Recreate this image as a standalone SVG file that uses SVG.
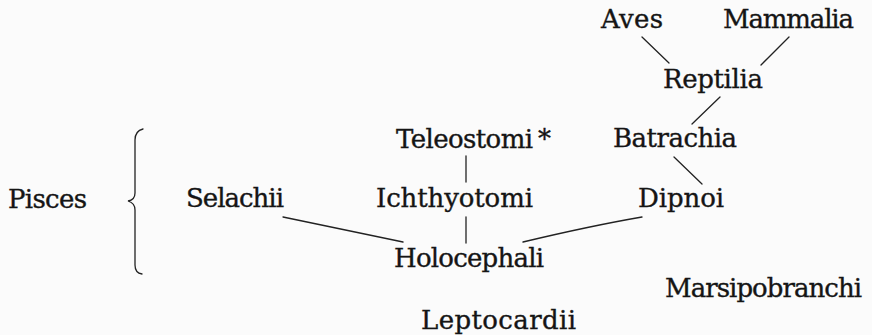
<svg xmlns="http://www.w3.org/2000/svg" width="872" height="335" viewBox="0 0 872 335">
<style>
text{font-family:"DejaVu Serif",serif;font-size:26px;fill:#151515;stroke:#151515;stroke-width:0.35}
.ln{stroke:#222;stroke-width:1.3;fill:none;stroke-linecap:round}
</style>
<rect width="872" height="335" fill="#fbfbfb"/>
<g id="connectors">
<line class="ln" x1="642" y1="37" x2="669" y2="63"/>
<line class="ln" x1="789" y1="37" x2="761" y2="65"/>
<line class="ln" x1="720" y1="97" x2="692" y2="124"/>
<line class="ln" x1="674" y1="157" x2="702" y2="184"/>
<line class="ln" x1="466" y1="156" x2="466" y2="182"/>
<line class="ln" x1="466" y1="217" x2="466" y2="243"/>
<line class="ln" x1="283" y1="217" x2="403" y2="242"/>
<path class="ln" d="M642,217 Q590,226 523,242" stroke-width="1.6"/>
</g>
<g id="brace"><path class="ln" d="M143,129 Q135,131 135,140 L135,193 Q135,200 128,201 Q135,203 135,210 L135,265 Q135,273 142,274"/></g>
<g id="aves"><text x="601" y="28" textLength="62">Aves</text></g>
<g id="mammalia"><text x="723" y="28" textLength="131">Mammalia</text></g>
<g id="reptilia"><text x="663" y="88" textLength="100">Reptilia</text></g>
<g id="teleostomi"><text x="396" y="148" textLength="137">Teleostomi</text><text x="538" y="148">*</text></g>
<g id="batrachia"><text x="613" y="147" textLength="124">Batrachia</text></g>
<g id="pisces"><text x="8" y="208" textLength="79">Pisces</text></g>
<g id="selachii"><text x="186" y="207" textLength="98">Selachii</text></g>
<g id="ichthyotomi"><text x="376" y="207" textLength="157">Ichthyotomi</text></g>
<g id="dipnoi"><text x="638" y="207" textLength="86">Dipnoi</text></g>
<g id="holocephali"><text x="394" y="267" textLength="150">Holocephali</text></g>
<g id="marsipobranchi"><text x="665" y="297" textLength="197">Marsipobranchi</text></g>
<g id="leptocardii"><text x="421" y="329" textLength="155">Leptocardii</text></g>
</svg>
